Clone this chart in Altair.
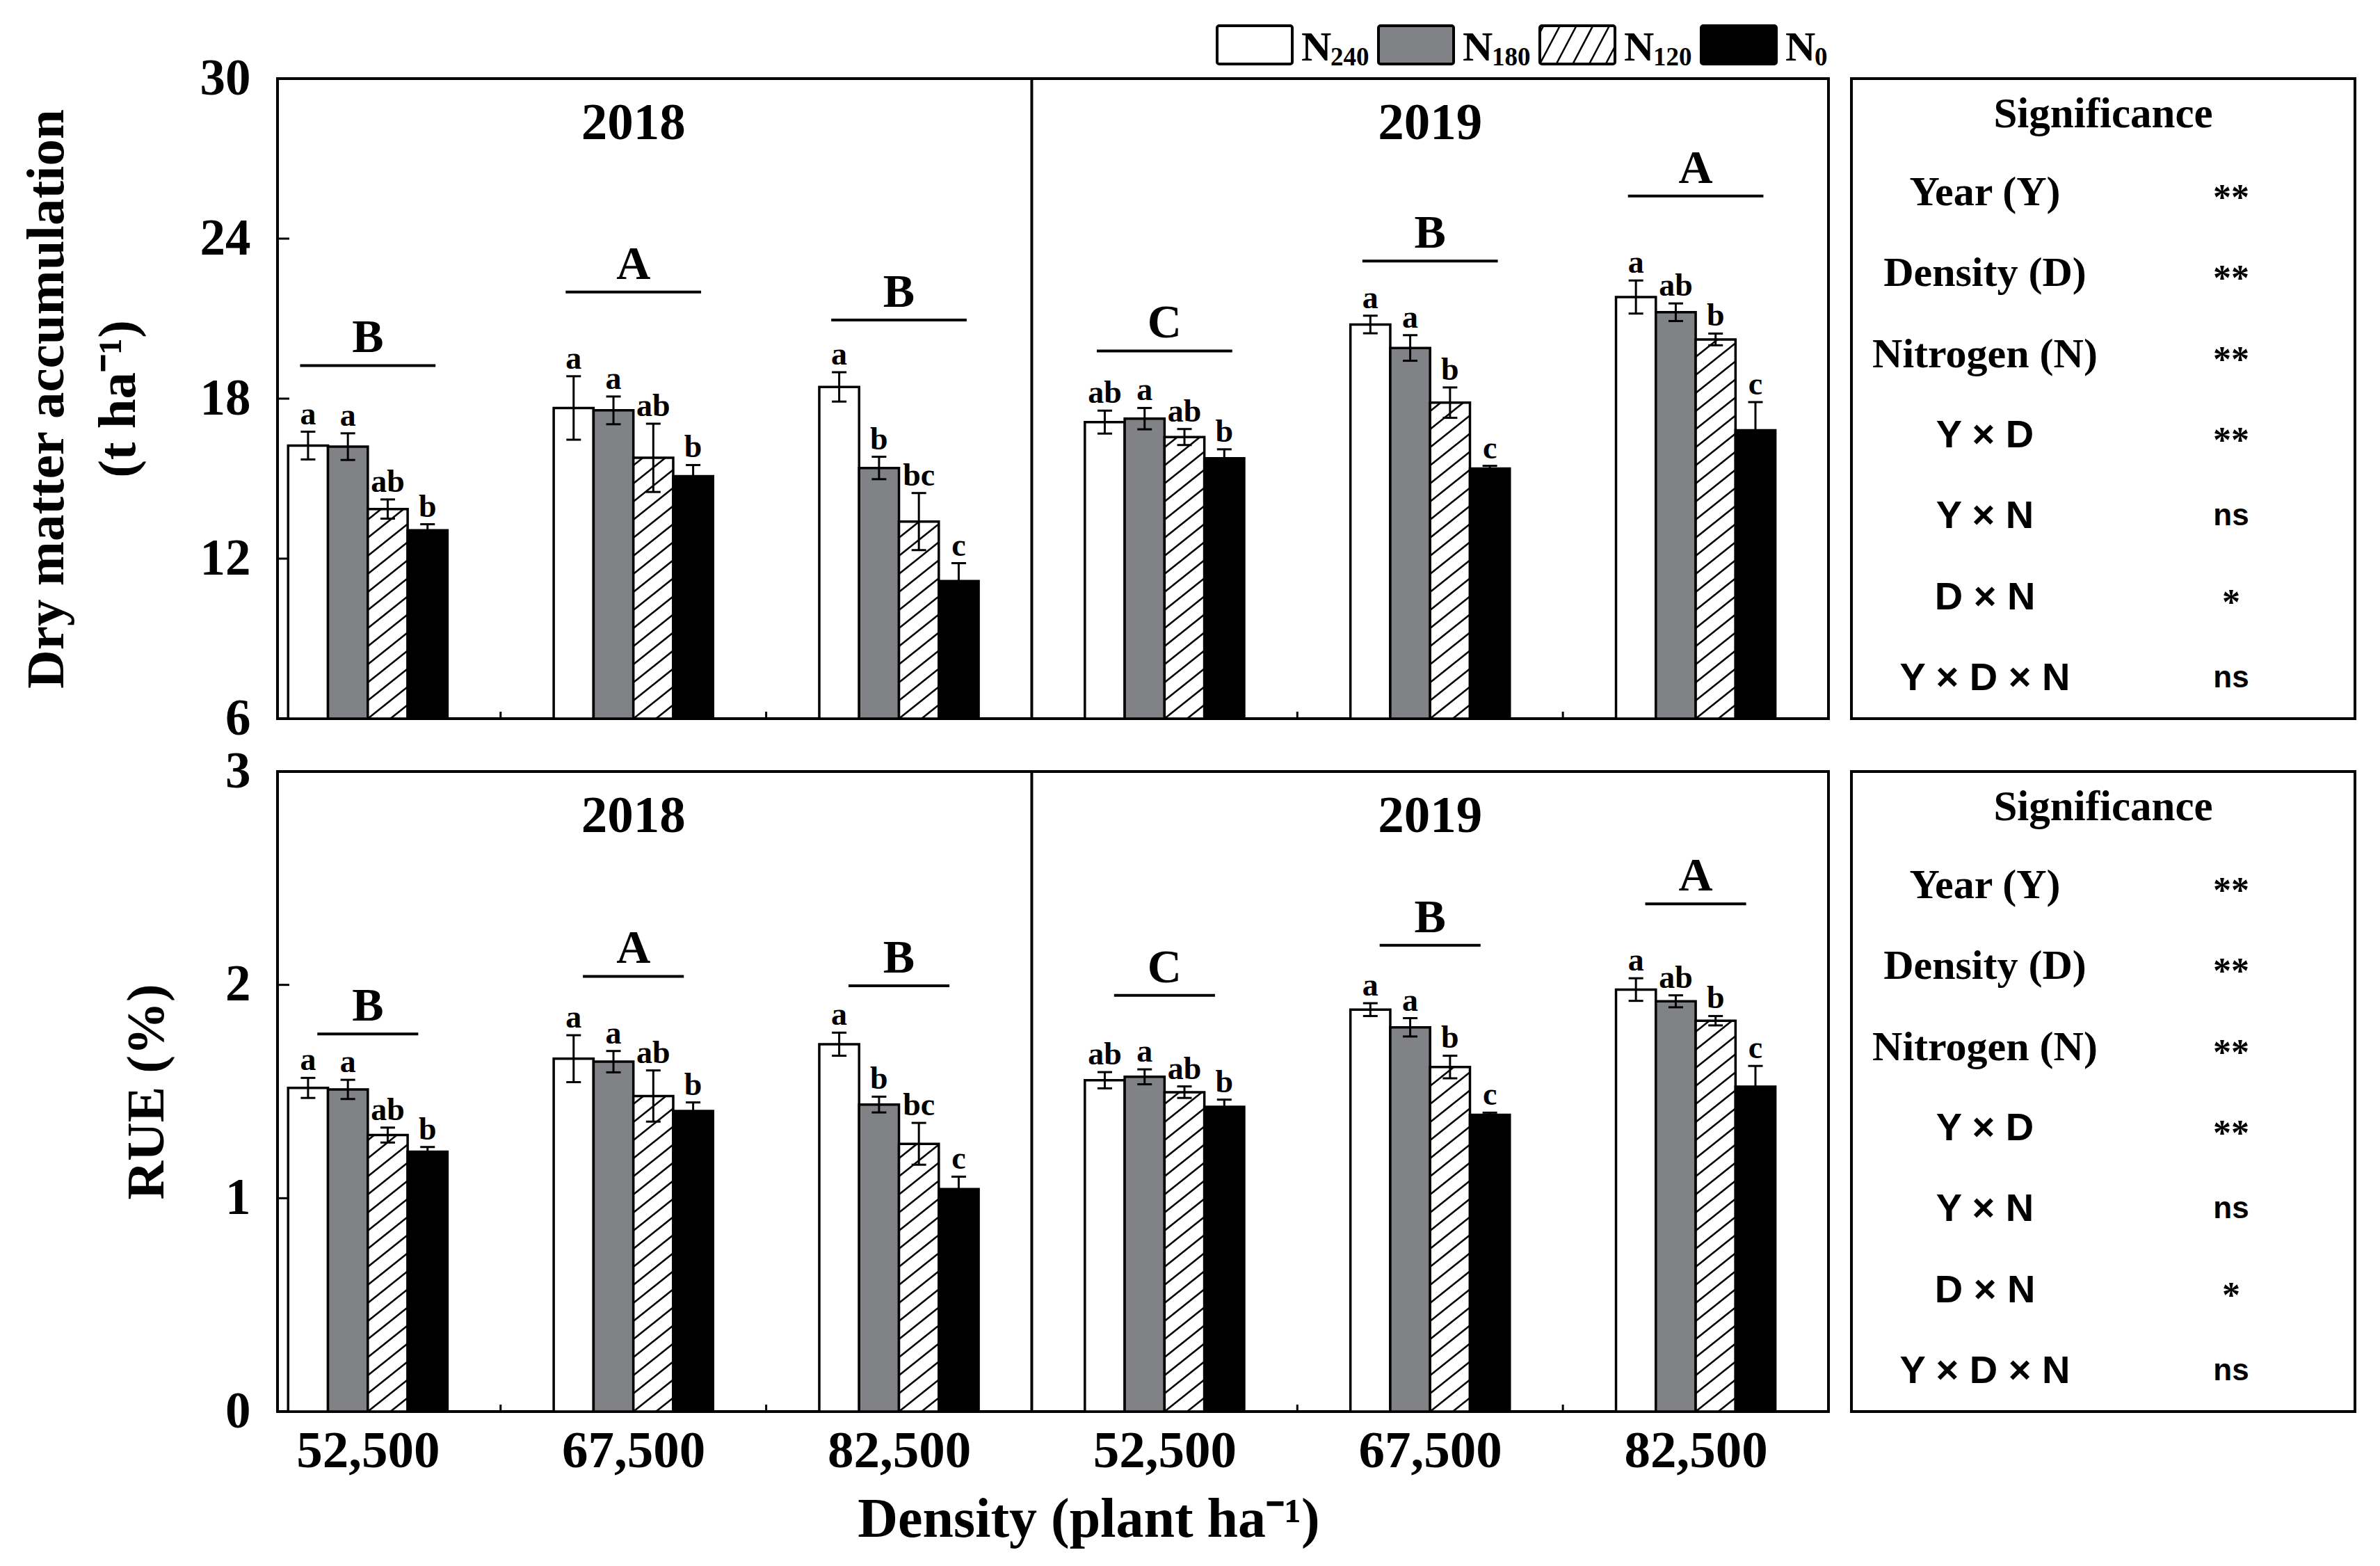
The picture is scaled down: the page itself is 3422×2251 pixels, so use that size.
import math
import altair as alt
import pandas as pd

# ---------------- data ----------------
nitrogen = ["N240", "N180", "N120", "N0"]
n_sub = ["240", "180", "120", "0"]
years = ["2018", "2019"]
densities = ["52,500", "67,500", "82,500"]

dma_2018 = [[16.24, 16.20, 13.86, 13.06], [17.65, 17.56, 15.78, 15.09], [18.44, 15.40, 13.39, 11.16]]
dma_2019 = [[17.12, 17.25, 16.56, 15.76], [20.78, 19.90, 17.85, 15.38], [21.81, 21.24, 20.22, 16.81]]
dma_err_2018 = [[0.52, 0.50, 0.36, 0.23], [1.19, 0.52, 1.28, 0.42], [0.55, 0.42, 1.07, 0.67]]
dma_err_2019 = [[0.43, 0.40, 0.30, 0.34], [0.33, 0.48, 0.57, 0.10], [0.62, 0.33, 0.22, 1.06]]

rue_2018 = [[1.517, 1.510, 1.296, 1.218], [1.654, 1.640, 1.479, 1.409], [1.722, 1.439, 1.255, 1.043]]
rue_2019 = [[1.553, 1.569, 1.497, 1.428], [1.884, 1.801, 1.615, 1.391], [1.978, 1.923, 1.832, 1.523]]
rue_err_2018 = [[0.047, 0.045, 0.035, 0.022], [0.110, 0.050, 0.120, 0.040], [0.054, 0.037, 0.098, 0.058]]
rue_err_2019 = [[0.038, 0.035, 0.027, 0.034], [0.030, 0.043, 0.053, 0.010], [0.053, 0.028, 0.022, 0.097]]

letters_2018 = [["a", "a", "ab", "b"], ["a", "a", "ab", "b"], ["a", "b", "bc", "c"]]
letters_2019 = [["ab", "a", "ab", "b"], ["a", "a", "b", "c"], ["a", "ab", "b", "c"]]
group_letters_2018 = ["B", "A", "B"]
group_letters_2019 = ["C", "B", "A"]
dma_group_line_2018 = [19.24, 22.00, 20.95]
dma_group_line_2019 = [19.79, 23.16, 25.60]
rue_group_line_2018 = [1.770, 2.040, 1.996]
rue_group_line_2019 = [1.951, 2.186, 2.380]

sig_terms = ["Year (Y)", "Density (D)", "Nitrogen (N)", "Y × D", "Y × N", "D × N", "Y × D × N"]
sig_marks = ["**", "**", "**", "**", "ns", "*", "ns"]

# ---------------- style ----------------
SERIF = "Liberation Serif"
SANS = "Liberation Sans"
XMIN = 0.16
PW, PH = 2230, 920
SW, SH = 724, 920
FILLS = ["white", "#808285", "white", "black"]
BAR_W = 0.15
BAR_START = 0.2


def hatch_segments(xl, xr, yb, yt, ppx, ppy, gap, slope):
    W = (xr - xl) * ppx
    H = (yt - yb) * ppy
    segs = []
    k0 = math.floor(-slope * W / gap)
    k1 = math.ceil(H / gap)
    for k in range(k0, k1 + 1):
        c = k * gap
        u0 = max(0.0, -c / slope)
        u1 = min(W, (H - c) / slope)
        if u1 - u0 > 0.5:
            segs.append(dict(x1=xl + u0 / ppx, x2=xl + u1 / ppx,
                             y1=yb + (slope * u0 + c) / ppy, y2=yb + (slope * u1 + c) / ppy))
    return segs


def panel(v18, v19, e18, e19, gl18, gl19, ydom, yvals, ytitle, bottom, line_hw, legend, title_pad):
    ymin, ymax = ydom
    ppx = PW / (6.0 - XMIN)
    ppy = PH / (ymax - ymin)
    rows = []
    for yi, (vals, errs, lets) in enumerate([(v18, e18, letters_2018), (v19, e19, letters_2019)]):
        for di in range(3):
            g = yi * 3 + di
            for ni, n in enumerate(nitrogen):
                xl = g + BAR_START + BAR_W * ni
                v = vals[di][ni]
                e = errs[di][ni]
                rows.append(dict(N=n, xl=xl, xr=xl + BAR_W, xc=xl + BAR_W / 2, v=v, base=ymin,
                                 lo=v - e, hi=v + e, letter=lets[di][ni]))
    bars = pd.DataFrame(rows)

    hrows = []
    for r in rows:
        if r["N"] == "N120":
            hrows += hatch_segments(r["xl"], r["xr"], ymin, r["v"], ppx, ppy, 26, 0.8)
    hatch_df = pd.DataFrame(hrows)

    grows = []
    for yi, (gl, glet) in enumerate([(gl18, group_letters_2018), (gl19, group_letters_2019)]):
        for di in range(3):
            gc = yi * 3 + di + 0.5
            grows.append(dict(gc=gc, gx1=gc - line_hw, gx2=gc + line_hw, gy=gl[di], glet=glet[di]))
    groups = pd.DataFrame(grows)

    xs = alt.Scale(domain=[XMIN, 6], nice=False, zero=False)
    ys = alt.Scale(domain=[ymin, ymax], nice=False, zero=False)

    labels = densities * 2
    label_expr = "[" + ",".join("'" + s + "'" for s in labels) + "][round(datum.value - 0.5)]"
    if bottom:
        xaxis = alt.Axis(values=[i + 0.5 for i in range(6)], labelExpr=label_expr, ticks=False, domain=False,
                         grid=False, labelFont=SERIF, labelFontWeight="bold", labelFontSize=75,
                         labelPadding=20, labelColor="black", labelLimit=0, labelFlush=False,
                         labelOverlap=False,
                         title="Density (plant ha⁻¹)", titleFont=SERIF, titleFontWeight="bold",
                         titleFontSize=80, titlePadding=22, titleX=1166, titleColor="black")
    else:
        xaxis = None
    yaxis = alt.Axis(values=yvals, format="d", ticks=False, domain=False, grid=False, labelFont=SERIF,
                     labelFontWeight="bold", labelFontSize=73, labelPadding=39, labelColor="black",
                     title=ytitle, titleFont=SERIF, titleFontWeight="bold", titleFontSize=77,
                     titleLineHeight=103, titlePadding=title_pad, titleColor="black")

    def X(field):
        if bottom:
            return alt.X(field)
        return alt.X(field, axis=None)

    def Y(field):
        return alt.Y(field)

    rect = alt.Chart(bars).mark_rect(stroke="black", strokeWidth=3.5).encode(
        x=alt.X("xl:Q", scale=xs, axis=xaxis), x2="xr:Q",
        y=alt.Y("v:Q", scale=ys, axis=yaxis), y2="base:Q",
        fill=alt.Fill("N:N", scale=alt.Scale(domain=nitrogen, range=FILLS), legend=None))
    hatch = alt.Chart(hatch_df).mark_rule(color="black", strokeWidth=2.6).encode(
        x=X("x1:Q"), x2="x2:Q", y=Y("y1:Q"), y2="y2:Q")
    err = alt.Chart(bars).mark_rule(color="black", strokeWidth=3).encode(
        x=X("xc:Q"), y=Y("lo:Q"), y2="hi:Q")
    cap_hi = alt.Chart(bars).mark_tick(orient="horizontal", size=21, thickness=3, color="black", opacity=1).encode(
        x=X("xc:Q"), y=Y("hi:Q"))
    cap_lo = alt.Chart(bars).mark_tick(orient="horizontal", size=21, thickness=3, color="black", opacity=1).encode(
        x=X("xc:Q"), y=Y("lo:Q"))
    lets = alt.Chart(bars).mark_text(font=SERIF, fontWeight="bold", fontSize=46, baseline="alphabetic",
                                     dy=-11, color="black").encode(
        x=X("xc:Q"), y=Y("hi:Q"), text="letter:N")
    gline = alt.Chart(groups).mark_rule(color="black", strokeWidth=4).encode(
        x=X("gx1:Q"), x2="gx2:Q", y=Y("gy:Q"))
    gtext = alt.Chart(groups).mark_text(font=SERIF, fontWeight="bold", fontSize=68, baseline="alphabetic",
                                        dy=-19, color="black").encode(
        x=X("gc:Q"), y=Y("gy:Q"), text="glet:N")
    div_df = pd.DataFrame({"dx": [3.0], "y0": [ymin], "y1": [ymax]})
    divider = alt.Chart(div_df).mark_rule(color="black", strokeWidth=4).encode(
        x=X("dx:Q"), y=Y("y0:Q"), y2="y1:Q")
    yr_df = pd.DataFrame({"year": years, "yc": [1.5, 4.5]})
    ytext = alt.Chart(yr_df).mark_text(font=SERIF, fontWeight="bold", fontSize=75, baseline="alphabetic",
                                       color="black").encode(
        x=X("yc:Q"), y=alt.value(87), text="year:N")
    yt_df = pd.DataFrame({"t": yvals[1:-1]})
    yticks = alt.Chart(yt_df).mark_rule(color="black", strokeWidth=3).encode(
        y=Y("t:Q"), x=alt.value(0), x2=alt.value(17))
    xt_df = pd.DataFrame({"b": [1.0, 2.0, 4.0, 5.0]})
    xticks = alt.Chart(xt_df).mark_rule(color="black", strokeWidth=3).encode(
        x=X("b:Q"), y=alt.value(PH), y2=alt.value(PH - 10))

    main = alt.layer(rect, hatch, err, cap_hi, cap_lo, lets, gline, gtext, divider, ytext, yticks, xticks)

    if legend:
        lrows = []
        for i, (n, s) in enumerate(zip(nitrogen, n_sub)):
            lrows.append(dict(i=i, N=n, sub=s, lxl=i - 0.2328, lxr=i + 0.2328, ly0=0.0, ly1=1.0))
        leg = pd.DataFrame(lrows)
        lhrows = hatch_segments(2 - 0.2328, 2 + 0.2328, 0.0, 1.0, 232.0, 55.0, 45, 1.9)
        lh = pd.DataFrame(lhrows)
        lx = alt.Scale(domain=[0, 3], range=[1405, 2101])
        ly = alt.Scale(domain=[0, 1], range=[-21, -76])
        sw = alt.Chart(leg).mark_rect(stroke="black", strokeWidth=4, cornerRadius=3).encode(
            x=alt.X("lxl:Q", scale=lx, axis=None), x2="lxr:Q",
            y=alt.Y("ly0:Q", scale=ly, axis=None), y2="ly1:Q",
            fill=alt.Fill("N:N", scale=alt.Scale(domain=nitrogen, range=FILLS), legend=None))
        swh = alt.Chart(lh).mark_rule(color="black", strokeWidth=2.6).encode(
            x=alt.X("x1:Q", axis=None), x2="x2:Q", y=alt.Y("y1:Q", axis=None), y2="y2:Q")
        ln = alt.Chart(leg).mark_text(font=SERIF, fontWeight="bold", fontSize=60, align="left",
                                      baseline="alphabetic", dx=67, color="black").encode(
            x=alt.X("i:Q", axis=None), y=alt.value(-26), text=alt.value("N"))
        ls = alt.Chart(leg).mark_text(font=SERIF, fontWeight="bold", fontSize=37, align="left",
                                      baseline="alphabetic", dx=109, color="black").encode(
            x=alt.X("i:Q", axis=None), y=alt.value(-19), text="sub:N")
        legend_layer = alt.layer(sw, swh, ln, ls)
        main = alt.layer(main, legend_layer).resolve_scale(x="independent", y="independent")

    return main.properties(width=PW, height=PH)


def sig_panel():
    df = pd.DataFrame({"r": list(range(1, 8)), "term": sig_terms, "mark": sig_marks,
                       "serif": [True, True, True, False, False, False, False]})
    sy = alt.Scale(domain=[1, 7], range=[164, 862])
    head = alt.Chart(pd.DataFrame({"r": [0], "t": ["Significance"]})).mark_text(
        font=SERIF, fontWeight="bold", fontSize=61, baseline="middle", dy=4, color="black").encode(
        x=alt.value(362), y=alt.Y("r:Q", scale=sy, axis=None), text="t:N")
    t1 = alt.Chart(df).transform_filter("datum.serif").mark_text(
        font=SERIF, fontWeight="bold", fontSize=60, baseline="middle", color="black").encode(
        x=alt.value(192), y=alt.Y("r:Q", axis=None), text="term:N")
    t2 = alt.Chart(df).transform_filter("!datum.serif").mark_text(
        font=SANS, fontWeight="bold", fontSize=56, baseline="middle", color="black").encode(
        x=alt.value(192), y=alt.Y("r:Q", axis=None), text="term:N")
    m1 = alt.Chart(df).transform_filter("datum.mark != 'ns'").mark_text(
        font=SERIF, fontWeight="bold", fontSize=52, baseline="middle", dy=8, color="black").encode(
        x=alt.value(546), y=alt.Y("r:Q", axis=None), text="mark:N")
    m2 = alt.Chart(df).transform_filter("datum.mark == 'ns'").mark_text(
        font=SANS, fontWeight="bold", fontSize=44, baseline="middle", color="black").encode(
        x=alt.value(546), y=alt.Y("r:Q", axis=None), text="mark:N")
    return alt.layer(head, t1, t2, m1, m2).properties(width=SW, height=SH)


top = panel(dma_2018, dma_2019, dma_err_2018, dma_err_2019, dma_group_line_2018, dma_group_line_2019,
            (6, 30), [6, 12, 18, 24, 30], ["Dry matter accumulation", "(t ha⁻¹)"], False, 0.255, True, 78)
bottom = panel(rue_2018, rue_2019, rue_err_2018, rue_err_2019, rue_group_line_2018, rue_group_line_2019,
               (0, 3), [0, 1, 2, 3], "RUE (%)", True, 0.19, False, 73)

chart = alt.concat(top, sig_panel(), bottom, sig_panel(), columns=2,
                   spacing={"row": 76, "column": 33}, bounds="flush").properties(
    padding={"left": 18, "top": 25, "right": 5, "bottom": 5}
).configure_view(stroke="black", strokeWidth=4)

chart.save("out.html", embed_options={"renderer": "svg", "actions": False})
